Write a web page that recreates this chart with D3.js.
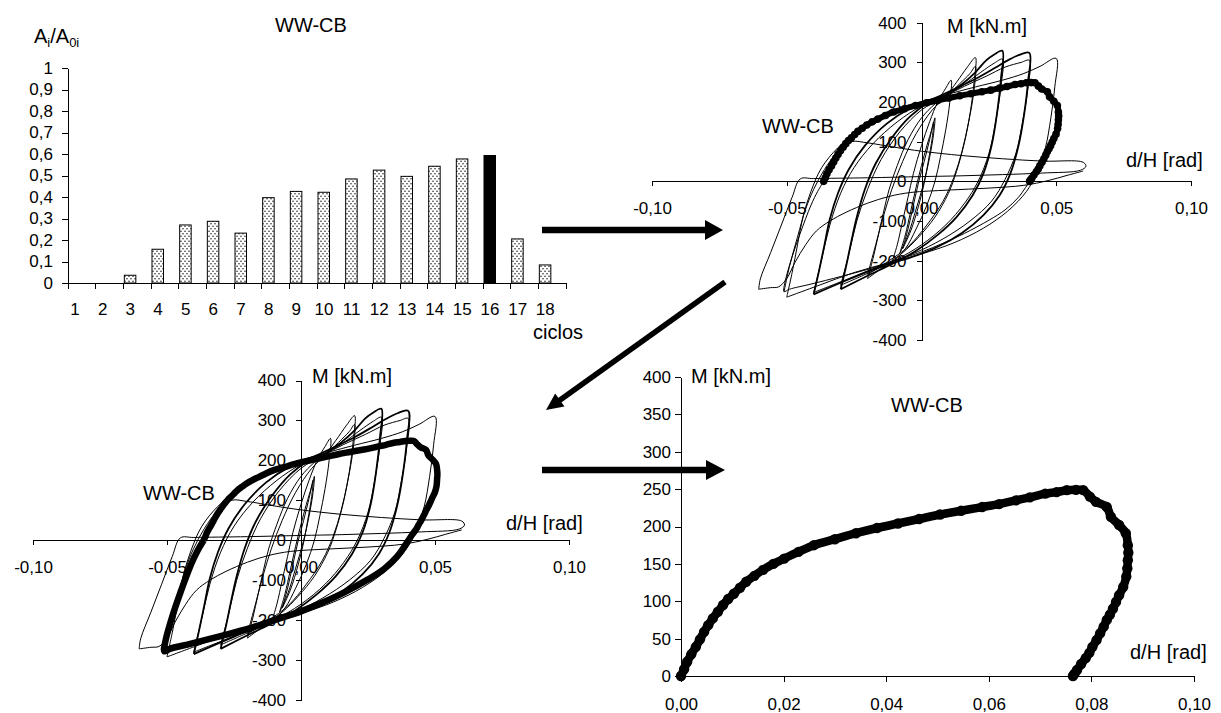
<!DOCTYPE html>
<html>
<head>
<meta charset="utf-8">
<script src="https://cdn.jsdelivr.net/npm/d3@7"></script>
<style>
  body { margin: 0; background: #fff; }
  svg text { font-family: "Liberation Sans", Arial, sans-serif; fill: #000; }
  .axis path, .axis line { stroke: #000; stroke-width: 1; shape-rendering: crispEdges; }
  .loop { fill: none; stroke: #000; stroke-linejoin: round; }
</style>
</head>
<body>
<svg id="fig" width="1221" height="713"></svg>
<script>
// ---- data: dissipated energy ratio per cycle
var cycles = [1, 2, 3, 4, 5, 6, 7, 8, 9, 10, 11, 12, 13, 14, 15, 16, 17, 18];
var areaRatio = [0, 0, 0.036, 0.157, 0.27, 0.287, 0.232, 0.397, 0.426, 0.422, 0.484, 0.525, 0.496, 0.543, 0.577, 0.593, 0.205, 0.084];
var highlightCycle = 16;
var barTicks = [0, 0.1, 0.2, 0.3, 0.4, 0.5, 0.6, 0.7, 0.8, 0.9, 1];
var barTickLabels = ["0", "0,1", "0,2", "0,3", "0,4", "0,5", "0,6", "0,7", "0,8", "0,9", "1"];

// ---- hysteresis axes
var hystXTicks = [-0.1, -0.05, 0, 0.05, 0.1];
var hystYTicks = [-400, -300, -200, -100, 0, 100, 200, 300, 400];
var skelXTicks = [0, 0.02, 0.04, 0.06, 0.08, 0.1];
var skelYTicks = [0, 50, 100, 150, 200, 250, 300, 350, 400];

// ---- hysteresis loops [d/H, M]
var loopA1 = [[-0.007,-170],[-0.005,-120],[-0.003,-60],[-0.001,0],[0.001,50],[0.003,105],[0.0045,150],[0.004,110],[0.0025,50],[0.001,-5],[-0.001,-60],[-0.004,-125],[-0.007,-170]];
var loopA2 = [[-0.008,-180],[-0.006,-135],[-0.004,-75],[-0.002,-15],[0,40],[0.002,90],[0.004,135],[0.005,160],[0.0045,120],[0.003,60],[0.001,0],[-0.002,-70],[-0.005,-135],[-0.008,-180]];
var loopB = [[-0.011,-205],[-0.009,-160],[-0.007,-100],[-0.005,-40],[-0.003,20],[0,90],[0.003,150],[0.006,200],[0.009,235],[0.011,255],[0.0105,200],[0.009,130],[0.007,60],[0.005,0],[0.002,-60],[-0.002,-120],[-0.006,-170],[-0.011,-205]];
var loopC1 = [[-0.02,-245],[-0.018,-195],[-0.016,-135],[-0.014,-75],[-0.012,-20],[-0.009,40],[-0.005,105],[0,160],[0.005,195],[0.009,215],[0.013,250],[0.017,288],[0.02,312],[0.0195,250],[0.018,170],[0.016,100],[0.013,25],[0.01,-30],[0.005,-90],[-0.001,-140],[-0.007,-180],[-0.013,-210],[-0.02,-245]];
var loopC2 = [[-0.02,-235],[-0.017,-160],[-0.014,-85],[-0.011,-20],[-0.007,50],[-0.002,120],[0.004,180],[0.009,212],[0.014,245],[0.018,272],[0.02,290],[0.0195,230],[0.0175,150],[0.015,75],[0.012,10],[0.008,-50],[0.002,-110],[-0.005,-165],[-0.012,-200],[-0.02,-235]];
var loopD1 = [[-0.03,-272],[-0.028,-215],[-0.026,-150],[-0.024,-90],[-0.021,-20],[-0.017,45],[-0.011,110],[-0.004,165],[0.003,200],[0.009,218],[0.015,245],[0.02,275],[0.024,305],[0.027,320],[0.03,329],[0.0295,260],[0.028,170],[0.026,90],[0.023,20],[0.019,-35],[0.013,-90],[0.006,-135],[-0.002,-175],[-0.01,-205],[-0.02,-238],[-0.03,-272]];
var loopD2 = [[-0.03,-262],[-0.027,-185],[-0.024,-100],[-0.02,-20],[-0.015,55],[-0.008,125],[0,180],[0.008,212],[0.015,240],[0.022,275],[0.027,298],[0.03,308],[0.0295,240],[0.0275,150],[0.025,70],[0.021,0],[0.016,-55],[0.009,-110],[0,-160],[-0.01,-200],[-0.02,-232],[-0.03,-262]];
var loopE1 = [[-0.04,-285],[-0.038,-225],[-0.036,-160],[-0.034,-95],[-0.031,-30],[-0.027,30],[-0.021,90],[-0.013,145],[-0.004,185],[0.005,210],[0.012,232],[0.02,258],[0.027,285],[0.032,305],[0.036,318],[0.04,324],[0.0395,250],[0.038,165],[0.036,90],[0.033,20],[0.029,-35],[0.023,-85],[0.015,-130],[0.006,-165],[-0.004,-192],[-0.015,-215],[-0.028,-250],[-0.04,-285]];
var loopE2 = [[-0.04,-280],[-0.037,-195],[-0.034,-110],[-0.03,-30],[-0.025,35],[-0.018,95],[-0.009,150],[0,190],[0.008,213],[0.016,240],[0.024,265],[0.031,288],[0.037,300],[0.04,305],[0.0395,235],[0.0375,150],[0.035,70],[0.031,5],[0.026,-50],[0.018,-100],[0.008,-145],[-0.003,-182],[-0.015,-212],[-0.028,-248],[-0.04,-280]];
var loopF = [[-0.05,-292],[-0.048,-230],[-0.046,-160],[-0.044,-90],[-0.041,-25],[-0.037,35],[-0.031,85],[-0.022,135],[-0.011,175],[0,200],[0.01,220],[0.02,238],[0.03,255],[0.038,272],[0.044,290],[0.05,310],[0.0495,240],[0.048,160],[0.046,85],[0.043,25],[0.039,-25],[0.032,-75],[0.023,-118],[0.012,-155],[0,-183],[-0.012,-205],[-0.025,-230],[-0.038,-262],[-0.05,-292]];
var loop17 = [[-0.051,-278],[-0.049,-215],[-0.046,-140],[-0.043,-70],[-0.04,-20],[-0.036,30],[-0.031,75],[-0.026,100],[-0.02,97],[-0.01,86],[0,76],[0.015,65],[0.03,57],[0.045,51],[0.06,48],[0.061,38],[0.059,28],[0.045,21],[0.03,17],[0.015,14],[0,12],[-0.02,9],[-0.04,7],[-0.045,6],[-0.048,-40],[-0.052,-110],[-0.056,-180],[-0.0598,-246],[-0.0604,-272]];
var loop18 = [[-0.0604,-272],[-0.056,-268],[-0.053,-266],[-0.05,-245],[-0.047,-205],[-0.043,-160],[-0.039,-125],[-0.034,-100],[-0.028,-78],[-0.02,-55],[-0.012,-38],[-0.004,-28],[0.01,-22],[0.025,-17],[0.038,-10],[0.047,2],[0.054,15],[0.06,26]];

// cycle 16: loading half (skeleton curve, re-zeroed) and unloading half
var skeleton = [[0,0],[0.0006,9],[0.0012,19],[0.002,29],[0.0029,39],[0.0037,49],[0.0045,59],[0.0053,68],[0.0062,77],[0.0072,86],[0.0082,95],[0.0092,103],[0.0103,110],[0.0115,118],[0.0127,126],[0.0143,134],[0.016,142],[0.018,150],[0.0201,157],[0.0229,166],[0.0259,175],[0.03,183],[0.0341,191],[0.0382,198],[0.0423,204],[0.0464,210],[0.0505,216],[0.0546,221],[0.0587,226],[0.062,230],[0.0653,235],[0.068,239],[0.071,244],[0.0732,246],[0.0752,248.6],[0.077,249],[0.0784,248.6],[0.0797,240],[0.0809,233],[0.083,226],[0.0838,213],[0.0854,202],[0.0867,191],[0.0871,175],[0.0872,165],[0.0871,155],[0.087,144],[0.0868,133],[0.0862,119],[0.0854,108],[0.0848,99],[0.0842,90],[0.0836,82],[0.083,75],[0.0824,66],[0.0817,57],[0.081,48],[0.0802,39],[0.0796,31],[0.0789,24],[0.078,16],[0.0772,8],[0.0767,3],[0.0764,0]];
var skeletonOrigin = -0.0363;
var unload16 = [[0.0401,0],[0.036,-40],[0.031,-72],[0.025,-98],[0.016,-131],[0.008,-156],[0,-178],[-0.01,-200],[-0.019,-220],[-0.03,-240],[-0.041,-259],[-0.049,-272],[-0.051,-278],[-0.0505,-250],[-0.048,-190],[-0.045,-131],[-0.041,-60],[-0.0385,-25],[-0.0363,0]];

var thinLoops = [loopA1, loopA2, loopB, loopC1, loopC2, loopD1, loopD2, loopE1, loopE2, loopF, loop17, loop18];
var thinWidths = [1, 1, 1, 1, 1, 1.8, 1, 1.8, 1, 1, 1, 1];

var locale = d3.formatLocale({decimal: ",", thousands: ".", grouping: [3], currency: ["", ""], minus: "-"});
var fmt2 = locale.format(".2f"), fmtInt = locale.format("d");

var svg = d3.select("#fig");
var defs = svg.append("defs");
var pat = defs.append("pattern").attr("id", "dots").attr("patternUnits", "userSpaceOnUse")
  .attr("width", 4).attr("height", 5);
pat.append("rect").attr("width", 4).attr("height", 5).attr("fill", "#fff");
pat.append("circle").attr("cx", 1).attr("cy", 1.2).attr("r", 0.7).attr("fill", "#000");
pat.append("circle").attr("cx", 3).attr("cy", 3.7).attr("r", 0.7).attr("fill", "#000");

function styleAxis(sel) {
  sel.attr("class", "axis").attr("font-size", 17)
    .attr("font-family", '"Liberation Sans", Arial, sans-serif');
  sel.selectAll("text").attr("fill", "#000");
}

function label(x, y, txt, size) {
  return svg.append("text").attr("x", x).attr("y", y).attr("font-size", size || 20).text(txt);
}

// ================= bar chart =================
var xb = d3.scaleBand().domain(cycles).range([68, 566]);
var yb = d3.scaleLinear().domain([0, 1]).range([283, 68]);
var gb = svg.append("g");

gb.append("g").attr("transform", "translate(68,0)")
  .call(d3.axisLeft(yb).tickValues(barTicks).tickFormat(function (d, i) { return barTickLabels[i]; })
    .tickSize(6).tickPadding(9).tickSizeOuter(0))
  .call(styleAxis);

var gx = gb.append("g").attr("class", "axis");
gx.append("line").attr("x1", 68).attr("x2", 566).attr("y1", 283).attr("y2", 283);
gx.selectAll("line.tk").data(cycles.concat(["end"])).enter().append("line").attr("class", "tk")
  .attr("x1", function (c) { return c === "end" ? 566 : xb(c); })
  .attr("x2", function (c) { return c === "end" ? 566 : xb(c); })
  .attr("y1", 283).attr("y2", 289);
gx.selectAll("text").data(cycles).enter().append("text")
  .attr("x", function (c) { return xb(c) + 7; }).attr("y", 315)
  .attr("text-anchor", "middle").attr("font-size", 17).text(function (c) { return c; });

gb.selectAll("rect.bar").data(cycles.filter(function (c, i) { return areaRatio[i] > 0; }))
  .enter().append("rect").attr("class", "bar")
  .attr("x", function (c) { return xb(c) + 1; })
  .attr("width", 11.5)
  .attr("y", function (c) { return yb(areaRatio[c - 1]); })
  .attr("height", function (c) { return yb(0) - yb(areaRatio[c - 1]); })
  .attr("fill", function (c) { return c === highlightCycle ? "#000" : "url(#dots)"; })
  .attr("stroke", "#000").attr("stroke-width", 1);

label(275, 32, "WW-CB");
label(533, 339, "ciclos");
var ai = svg.append("text").attr("x", 34).attr("y", 43).attr("font-size", 20);
ai.append("tspan").text("A");
ai.append("tspan").attr("font-size", 13).attr("dy", 4).text("i");
ai.append("tspan").attr("dy", -4).text("/A");
ai.append("tspan").attr("font-size", 13).attr("dy", 4).text("0i");

// ================= hysteresis panels =================
function hystPanel(cfg) {
  var x = d3.scaleLinear().domain([-0.1, 0.1]).range(cfg.xr);
  var y = d3.scaleLinear().domain([-400, 400]).range(cfg.yr);
  var g = svg.append("g");
  g.append("g").attr("transform", "translate(0," + y(0) + ")")
    .call(d3.axisBottom(x).tickValues(hystXTicks).tickFormat(fmt2).tickSize(5).tickPadding(16).tickSizeOuter(0))
    .call(styleAxis);
  g.append("g").attr("transform", "translate(" + x(0) + ",0)")
    .call(d3.axisLeft(y).tickValues(hystYTicks).tickFormat(fmtInt).tickSize(5).tickPadding(10).tickSizeOuter(0))
    .call(styleAxis);

  var line = d3.line().x(function (p) { return x(p[0]); }).y(function (p) { return y(p[1]); })
    .curve(d3.curveCatmullRom.alpha(0.5));
  var shifted = skeleton.map(function (p) { return [p[0] + skeletonOrigin, p[1]]; });

  thinLoops.forEach(function (L, i) {
    g.append("path").attr("class", "loop").attr("d", line(L)).attr("stroke-width", thinWidths[i]);
  });

  if (cfg.fullLoop) {
    g.append("path").attr("class", "loop").attr("d", line(shifted.concat(unload16.slice(1))))
      .attr("stroke-width", 6.5);
  } else {
    g.append("path").attr("class", "loop").attr("d", line(unload16)).attr("stroke-width", 1);
    g.append("path").attr("class", "loop").attr("d", line(shifted)).attr("stroke-width", 6);
    g.selectAll("circle").data(shifted).enter().append("circle")
      .attr("cx", function (p) { return x(p[0]); }).attr("cy", function (p) { return y(p[1]); })
      .attr("r", 3.8).attr("fill", "#000");
  }

  label(cfg.m[0], cfg.m[1], "M [kN.m]");
  label(cfg.w[0], cfg.w[1], "WW-CB");
  label(cfg.d[0], cfg.d[1], "d/H [rad]");
}

hystPanel({ xr: [652, 1191], yr: [340, 22.7], m: [947, 33], w: [762, 133], d: [1126, 167], fullLoop: false });
hystPanel({ xr: [33, 569], yr: [700, 380.5], m: [312, 383], w: [143, 500], d: [506, 530], fullLoop: true });

// ================= skeleton curve =================
(function () {
  var x = d3.scaleLinear().domain([0, 0.1]).range([681, 1194]);
  var y = d3.scaleLinear().domain([0, 400]).range([676, 377]);
  var g = svg.append("g");
  g.append("g").attr("transform", "translate(0," + y(0) + ")")
    .call(d3.axisBottom(x).tickValues(skelXTicks).tickFormat(fmt2).tickSize(6).tickPadding(16).tickSizeOuter(0))
    .call(styleAxis);
  g.append("g").attr("transform", "translate(" + x(0) + ",0)")
    .call(d3.axisLeft(y).tickValues(skelYTicks).tickFormat(fmtInt).tickSize(6).tickPadding(4).tickSizeOuter(0))
    .call(styleAxis);
  var line = d3.line().x(function (p) { return x(p[0]); }).y(function (p) { return y(p[1]); })
    .curve(d3.curveCatmullRom.alpha(0.5));
  g.append("path").attr("class", "loop").attr("d", line(skeleton)).attr("stroke-width", 8.5);
  g.selectAll("circle").data(skeleton).enter().append("circle")
    .attr("cx", function (p) { return x(p[0]); }).attr("cy", function (p) { return y(p[1]); })
    .attr("r", 5.2).attr("fill", "#000");
  label(691, 383, "M [kN.m]");
  label(891, 412, "WW-CB");
  label(1130, 659, "d/H [rad]");
})();

// ================= arrows =================
function arrow(x1, y1, x2, y2, w, hl, hw) {
  var dx = x2 - x1, dy = y2 - y1, len = Math.sqrt(dx * dx + dy * dy);
  var ux = dx / len, uy = dy / len, nx = -uy, ny = ux;
  var bx = x2 - ux * hl, by = y2 - uy * hl;
  svg.append("line").attr("x1", x1).attr("y1", y1).attr("x2", bx + ux).attr("y2", by + uy)
    .attr("stroke", "#000").attr("stroke-width", w);
  svg.append("path").attr("fill", "#000")
    .attr("d", "M" + x2 + "," + y2 + "L" + (bx + nx * hw) + "," + (by + ny * hw) + "L" + (bx - nx * hw) + "," + (by - ny * hw) + "Z");
}
arrow(542, 230, 723, 230, 6.5, 18, 10);
arrow(725, 282, 546, 410, 5.5, 17, 8);
arrow(542, 470, 725, 470, 6.5, 19, 10);
</script>
</body>
</html>
